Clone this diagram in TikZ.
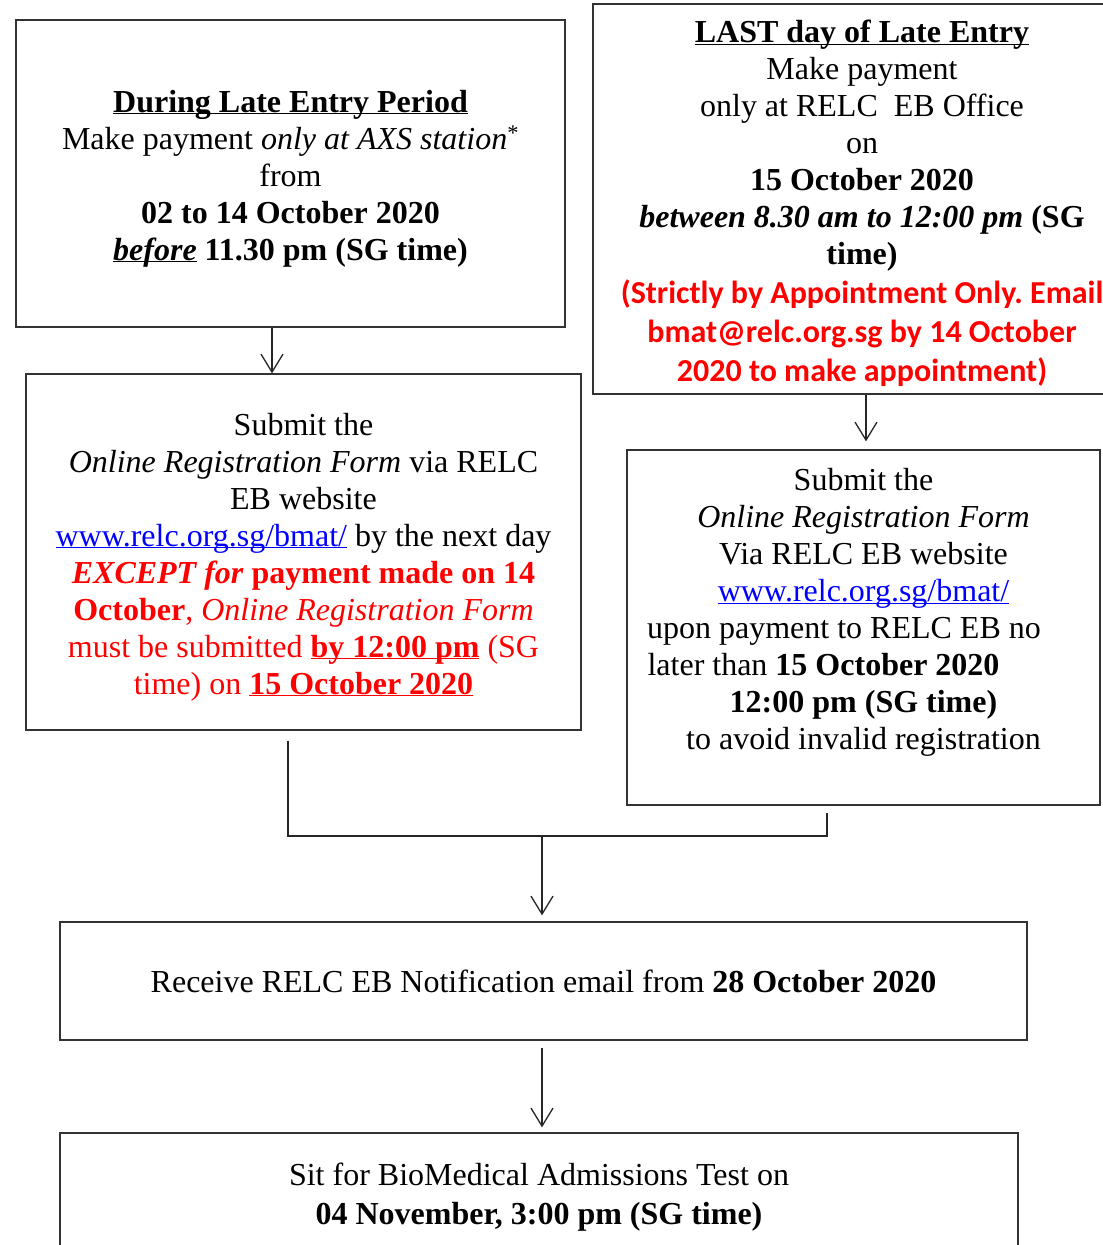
\documentclass[tikz,border=0pt]{standalone}
\usepackage{fontspec}
\setmainfont{Liberation Serif}
\newfontfamily\apptfont{Carlito}
\usepackage{xcolor}
\usepackage{tikz}
\usetikzlibrary{arrows.meta,calc}
\definecolor{linkblue}{RGB}{0,0,255}
\newcommand{\ulbox}[1]{\underline{\raisebox{0pt}[\height][0pt]{#1}}}
\newcommand{\topstrut}{\rule{0pt}{32pt}}
\frenchspacing

\begin{document}
\begin{tikzpicture}[x=1pt,y=-1pt,
  font=\fontsize{32}{37}\selectfont,
  box/.style={draw=black!80,line width=1.3pt,inner sep=0pt,align=flush center},
  flow/.style={line width=1.3pt,draw=black!85,-{Straight Barb[length=18pt,width=22pt]}},
  joinline/.style={line width=1.3pt,draw=black!85}]
\useasboundingbox (0,0) rectangle (1103,1245);
\clip (0,0) rectangle (1103,1245);

\node[box,minimum width=549pt,minimum height=307pt,text width=500pt] (period) at (290.5,173.5) {%
\topstrut\ulbox{\textbf{During Late Entry Period}}\\
Make payment \textit{only at AXS station}\textsuperscript{*}\\
from\\
\textbf{02 to 14 October 2020}\\
\ulbox{\textbf{\textit{before}}} \textbf{11.30 pm (SG time)}};

\node[box,minimum width=538pt,minimum height=390pt,text width=510pt] (lastday) at (862,199) {%
\topstrut\ulbox{\textbf{LAST day of Late Entry}}\\
Make payment\\
only at RELC\ \ EB Office\\
on\\
\textbf{15 October 2020}\\
\textbf{\textit{between 8.30 am to 12:00 pm}} \textbf{(SG}\\
\textbf{time)}\\[2pt]
{\apptfont\bfseries\color{red}\fontsize{32}{37}\selectfont (Strictly by Appointment Only. Email\\[2pt]
bmat@relc.org.sg by 14 October\\[2pt]
2020 to make appointment)}};

\node[box,minimum width=555pt,minimum height=356pt,text width=530pt] (submitA) at (303.5,552) {%
\topstrut Submit the\\
\textit{Online Registration Form} via RELC\\
EB website\\
{\color{linkblue}\ulbox{www.relc.org.sg/bmat/}} by the next day\\
{\color{red}\textbf{\textit{EXCEPT for}} \textbf{payment made on 14}\\
\textbf{October}, \textit{Online Registration Form}\\
must be submitted \ulbox{\textbf{by 12:00 pm}} (SG\\
time) on \ulbox{\textbf{15 October 2020}}}};

\node[box,minimum width=473pt,minimum height=355pt,text width=450pt] (submitB) at (863.5,627.5) {
Submit the\\
\textit{Online Registration Form}\\
Via RELC EB website\\
{\color{linkblue}\ulbox{www.relc.org.sg/bmat/}}\\
upon payment to RELC EB no\hspace*{39pt}\mbox{}\\
later than \textbf{15 October 2020}\hspace*{80pt}\mbox{}\\
\textbf{12:00 pm (SG time)}\\
to avoid invalid registration\\
\mbox{}};

\node[box,minimum width=967pt,minimum height=118pt] (notify) at (543.5,981) {
Receive RELC EB Notification email from \textbf{28 October 2020}};

\node[box,minimum width=958pt,minimum height=129pt,text width=900pt,font=\fontsize{32}{39}\selectfont] (test) at (539,1197.5) {
Sit for BioMedical Admissions Test on\\
\textbf{04 November, 3:00 pm (SG time)}};

\coordinate (lj) at (288,836);
\coordinate (rj) at (827,836);
\coordinate (join) at (542,836);

\draw[flow] ([xshift=-18.5pt]period.south) -- ([xshift=-18.5pt]period.south |- submitA.north);
\draw[flow] ([xshift=4pt]lastday.south) -- ([xshift=4pt,yshift=8pt]lastday.south |- submitB.north);
\draw[joinline] ([yshift=-10pt]submitA.south -| lj) -- (lj) -- (rj) -- ([yshift=-7pt]submitB.south -| rj);
\draw[flow] (join) -- ([yshift=6pt]notify.north -| join);
\draw[flow] ([yshift=-7pt]notify.south -| join) -- ([yshift=5pt]test.north -| join);
\end{tikzpicture}
\end{document}
